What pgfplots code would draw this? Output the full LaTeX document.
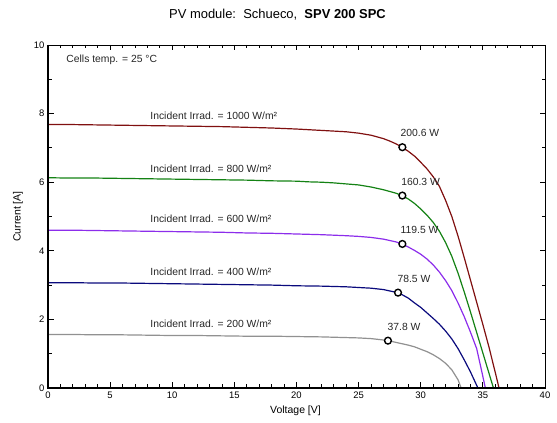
\documentclass[border=0pt]{standalone}
\usepackage{pgfplots}
\pgfplotsset{compat=1.18}
\usepackage{fontspec}
\setmainfont{Liberation Sans}

\definecolor{irr1000}{RGB}{128,16,16}
\definecolor{irr800}{RGB}{20,130,20}
\definecolor{irr600}{RGB}{140,45,235}
\definecolor{irr400}{RGB}{10,10,125}
\definecolor{irr200}{RGB}{145,145,145}

\begin{document}
\begin{tikzpicture}
% page = 557 x 423 bp, axis box starts at (0,0)
\useasboundingbox (-48bp,-35bp) rectangle (509bp,388bp);
\begin{axis}[
    scale only axis,
    width=497bp, height=343bp,
    xmin=0, xmax=40, ymin=0, ymax=10,
    xtick={0,5,...,40}, ytick={0,2,...,10},
    minor x tick num=4, minor y tick num=1,
    tick align=inside,
    major tick length=5.5bp, minor tick length=3.5bp,
    every tick/.style={black, line width=0.8bp},
    axis line style={line width=0.8bp},
    ticklabel style={font=\fontsize{9.5}{10}\selectfont},
    /pgf/number format/assume math mode=true,
    clip=false,
    every node/.append style={inner sep=0pt},
  ]

  % 1000 W/m2
  \addplot[irr1000, line width=1.2bp] coordinates {
      (0,7.68)(2,7.68)(4,7.67)(6,7.66)(8,7.65)(10,7.64)(12,7.63)(14,7.62)
      (16,7.60)(18,7.58)(20,7.55)(21,7.53)(22,7.51)(23,7.49)(24,7.47)
      (25,7.43)(26,7.37)(27,7.27)(27.5,7.20)(28,7.12)(28.5,7.02)(29,6.90)
      (29.5,6.76)(30,6.58)(30.5,6.39)(31,6.16)(31.5,5.88)(32,5.47)(32.5,5.00)
      (33,4.43)(33.5,3.80)(34,3.15)(34.5,2.50)(35,1.85)(35.5,1.18)(36,0.45)(36.3,0)
    };
  % 800 W/m2
  \addplot[irr800, line width=1.2bp] coordinates {
      (0,6.13)(2,6.12)(4,6.12)(6,6.11)(8,6.10)(10,6.09)(12,6.08)(14,6.07)
      (16,6.06)(18,6.04)(20,6.03)(21,6.01)(22,6.00)(23,5.98)(24,5.95)
      (25,5.92)(26,5.86)(27,5.78)(27.5,5.73)(28,5.68)(28.5,5.61)(29,5.51)
      (29.5,5.38)(30,5.22)(30.5,5.04)(31,4.83)(31.5,4.57)(32,4.24)(32.5,3.84)
      (33,3.35)(33.5,2.80)(34,2.22)(34.5,1.62)(35,1.02)(35.5,0.42)(35.85,0)
    };
  % 600 W/m2
  \addplot[irr600, line width=1.2bp] coordinates {
      (0,4.60)(2,4.60)(4,4.59)(6,4.58)(8,4.57)(10,4.56)(12,4.55)(14,4.54)
      (16,4.52)(18,4.51)(20,4.49)(22,4.47)(24,4.44)(25,4.42)(26,4.39)
      (27,4.34)(27.5,4.30)(28,4.26)(28.5,4.20)(29,4.11)(29.5,4.01)(30,3.90)
      (30.5,3.76)(31,3.59)(31.5,3.38)(32,3.13)(32.5,2.84)(33,2.48)(33.5,2.08)
      (34,1.63)(34.5,1.15)(34.9,0.50)(35.2,0)
    };
  % 400 W/m2
  \addplot[irr400, line width=1.2bp] coordinates {
      (0,3.07)(2,3.07)(4,3.06)(6,3.06)(8,3.05)(10,3.04)(12,3.03)(14,3.02)
      (16,3.01)(18,3.00)(20,2.98)(22,2.97)(24,2.95)(25,2.93)(26,2.91)
      (27,2.87)(27.5,2.83)(28,2.79)(28.5,2.72)(29,2.62)(29.5,2.48)(30,2.35)
      (30.5,2.19)(31,2.03)(31.5,1.86)(32,1.66)(32.5,1.43)(33,1.15)(33.5,0.82)
      (34,0.47)(34.6,0)
    };
  % 200 W/m2
  \addplot[irr200, line width=1.2bp] coordinates {
      (0,1.56)(2,1.56)(4,1.55)(6,1.55)(8,1.54)(10,1.53)(12,1.53)(14,1.52)
      (16,1.51)(18,1.51)(20,1.50)(22,1.49)(24,1.47)(25,1.46)(26,1.44)
      (27,1.40)(27.5,1.37)(28,1.33)(28.5,1.29)(29,1.25)(29.5,1.20)(30,1.13)
      (30.5,1.06)(31,0.97)(31.5,0.86)(32,0.72)(32.5,0.53)(33,0.24)(33.25,0)
    };

  % maximum power points
  \addplot[only marks, mark=*, mark size=3.4bp,
    mark options={draw=black, fill=white, line width=1.4bp}] coordinates {
      (28.52,7.02)(28.52,5.61)(28.52,4.20)(28.17,2.78)(27.36,1.38)
    };

  \begin{scope}[font=\fontsize{10.4}{12}\selectfont, color=black!85]
    \node[anchor=west] at (axis cs:1.2,9.58) {Cells temp. = 25 °C};
    \node[anchor=west] at (axis cs:7.96,7.95) {Incident Irrad. = 1000 W/m²};
    \node[anchor=west] at (axis cs:7.96,6.40) {Incident Irrad. = 800 W/m²};
    \node[anchor=west] at (axis cs:7.96,4.92) {Incident Irrad. = 600 W/m²};
    \node[anchor=west] at (axis cs:7.96,3.39) {Incident Irrad. = 400 W/m²};
    \node[anchor=west] at (axis cs:7.96,1.86) {Incident Irrad. = 200 W/m²};
    \node[anchor=west] at (axis cs:28.1,7.43) {200.6 W};
    \node[anchor=west] at (axis cs:28.15,6.00) {160.3 W};
    \node[anchor=west] at (axis cs:28.1,4.61) {119.5 W};
    \node[anchor=west] at (axis cs:27.85,3.18) {78.5 W};
    \node[anchor=west] at (axis cs:27.05,1.78) {37.8 W};
  \end{scope}

  % heavy left and bottom axis lines
  \draw[black, line width=2.4bp] (rel axis cs:0,1) -- (rel axis cs:0,0) -- (rel axis cs:1,0);
\end{axis}

\node[font=\fontsize{13}{15}\selectfont] at (229.5bp,373bp)
  {PV module:\ \ Schueco,\ \ \textbf{SPV 200 SPC}};
\node[font=\fontsize{10.5}{12}\selectfont] at (247.5bp,-23bp) {Voltage [V]};
\node[font=\fontsize{10.5}{12}\selectfont, rotate=90] at (-30bp,171.5bp) {Current [A]};
\end{tikzpicture}
\end{document}
